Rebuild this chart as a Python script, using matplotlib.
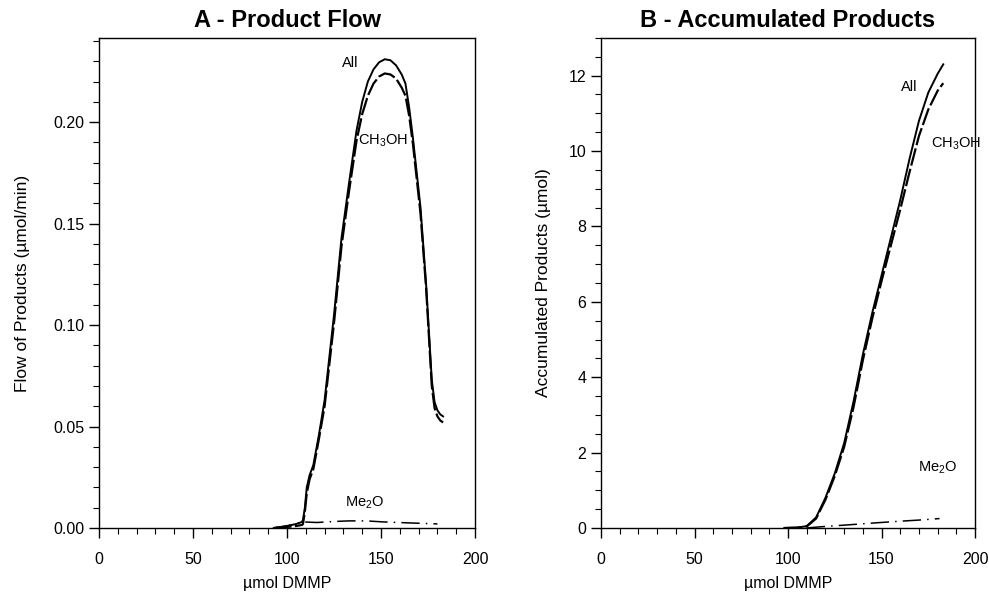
import matplotlib
matplotlib.use("Agg")
import matplotlib.pyplot as plt
from matplotlib.ticker import MultipleLocator, FormatStrFormatter

plt.rcParams['font.family'] = ['Liberation Sans', 'DejaVu Sans']
plt.rcParams['mathtext.default'] = 'regular'

# === Panel A: product flow (umol/min) vs umol DMMP ===
x_flow = [93, 100, 105, 108, 108.5, 109.5, 110.5, 112, 114, 117, 120, 125, 129, 133, 137,
          140, 143, 146, 149, 152, 155, 158, 161, 163, 165, 167, 169, 171, 174, 177, 178.5,
          180, 181.5, 183]
all_flow = [0, 0.001, 0.002, 0.003, 0.004, 0.010, 0.020, 0.026, 0.031, 0.046, 0.063, 0.105,
            0.143, 0.170, 0.196, 0.210, 0.220, 0.226, 0.2295, 0.231, 0.2305, 0.228, 0.2235,
            0.219, 0.207, 0.192, 0.175, 0.158, 0.120, 0.073, 0.062, 0.058, 0.056, 0.055]
ch3oh_flow = [0, 0.0005, 0.001, 0.0015, 0.002, 0.008, 0.017, 0.024, 0.029, 0.044, 0.060,
              0.101, 0.139, 0.166, 0.191, 0.204, 0.213, 0.219, 0.2225, 0.224, 0.2235, 0.2215,
              0.217, 0.213, 0.203, 0.189, 0.172, 0.155, 0.118, 0.070, 0.059, 0.055, 0.053,
              0.052]
x_me2o_flow = [93, 100, 105, 108, 116, 125, 133, 142, 151, 165, 180]
me2o_flow = [0, 0.001, 0.002, 0.003, 0.0027, 0.0032, 0.0035, 0.0035, 0.003, 0.0025, 0.002]

# === Panel B: accumulated products (umol) ===
x_acc = [98, 105, 110, 115, 120, 125, 130, 135, 140, 145, 150, 155, 160, 165, 170, 175,
         180, 183]
all_acc = [0, 0.01, 0.05, 0.28, 0.8, 1.45, 2.25, 3.35, 4.6, 5.7, 6.7, 7.7, 8.7, 9.8, 10.8,
           11.55, 12.05, 12.3]
ch3oh_acc = [0, 0.01, 0.04, 0.25, 0.75, 1.38, 2.15, 3.2, 4.45, 5.55, 6.55, 7.5, 8.45,
             9.45, 10.4, 11.1, 11.6, 11.8]
x_me2o_acc = [110, 117, 127, 137, 148, 160, 170, 181]
me2o_acc = [0, 0.03, 0.065, 0.1, 0.14, 0.18, 0.21, 0.25]

fig = plt.figure(figsize=(9.89, 6.05), dpi=100)
axA = fig.add_axes([0.1001, 0.1273, 0.3802, 0.810])
axB = fig.add_axes([0.6077, 0.1273, 0.3782, 0.810])

lw = 1.4
for ax, xs, a, c, xm, m in [(axA, x_flow, all_flow, ch3oh_flow, x_me2o_flow, me2o_flow),
                            (axB, x_acc, all_acc, ch3oh_acc, x_me2o_acc, me2o_acc)]:
    ax.plot(xs, a, color='black', lw=lw, solid_joinstyle='round')
    ax.plot(xs, c, color='black', lw=lw + 0.2, dashes=(8, 1.5), dash_joinstyle='round')
    ax.plot(xm, m, color='black', lw=1.1, dashes=(12, 4, 1, 4))
    ax.set_xlim(0, 200)
    ax.xaxis.set_major_locator(MultipleLocator(50))
    ax.xaxis.set_minor_locator(MultipleLocator(10))
    ax.tick_params(which='major', direction='out', length=7, width=1, labelsize=11.5,
                   top=False, right=False)
    ax.tick_params(which='minor', direction='out', length=4, width=0.8,
                   top=False, right=False)
    ax.tick_params(axis='x', pad=10)
    for s in ax.spines.values():
        s.set_linewidth(1.0)
    ax.set_xlabel('µmol DMMP', fontsize=11.5, labelpad=7)

axA.set_ylim(0, 0.2415)
axA.yaxis.set_major_locator(MultipleLocator(0.05))
axA.yaxis.set_minor_locator(MultipleLocator(0.01))
axA.yaxis.set_major_formatter(FormatStrFormatter('%.2f'))
axA.set_ylabel('Flow of Products (µmol/min)', fontsize=12.5, labelpad=17)
axA.set_title('A - Product Flow', fontsize=17, fontweight='bold', pad=8)
axA.text(133.5, 0.229, 'All', fontsize=10.5, ha='center', va='center')
axA.text(151, 0.191, 'CH$_3$OH', fontsize=10.5, ha='center', va='center')
axA.text(141.5, 0.0123, 'Me$_2$O', fontsize=10.5, ha='center', va='center')

axB.set_ylim(0, 13)
axB.yaxis.set_major_locator(MultipleLocator(2))
axB.yaxis.set_minor_locator(MultipleLocator(0.5))
axB.set_ylabel('Accumulated Products (µmol)', fontsize=12.5, labelpad=13)
axB.set_title('B - Accumulated Products', fontsize=17, fontweight='bold', pad=8)
axB.text(165, 11.7, 'All', fontsize=10.5, ha='center', va='center')
axB.text(190, 10.2, 'CH$_3$OH', fontsize=10.5, ha='center', va='center')
axB.text(180, 1.6, 'Me$_2$O', fontsize=10.5, ha='center', va='center')

fig.savefig('out.png', dpi=100)
